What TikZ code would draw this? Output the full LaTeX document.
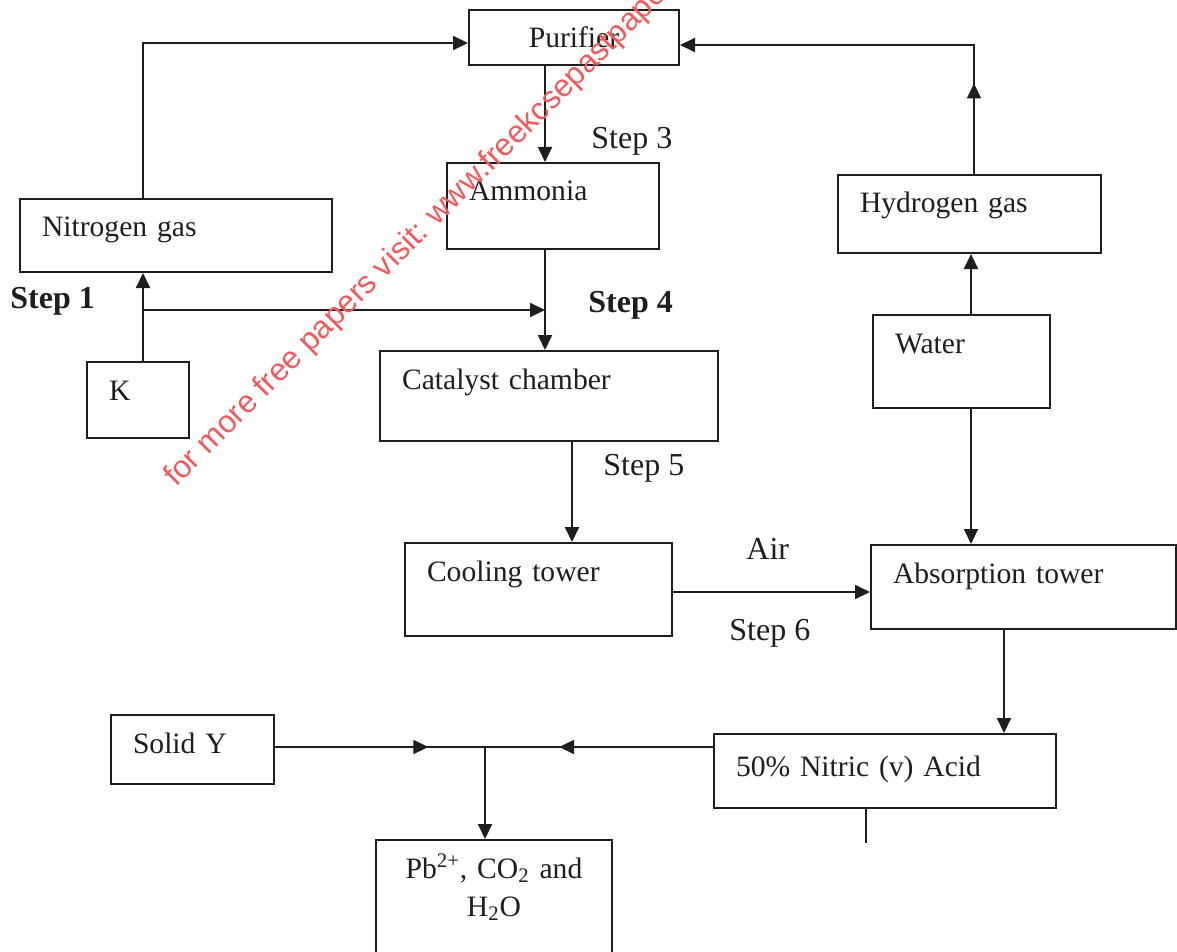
\documentclass[tikz,border=0pt]{standalone}
\usepackage{fontspec}
\setmainfont{Liberation Serif}
\newfontfamily\wmfont{Liberation Sans}
\usepackage{tikz}
\usetikzlibrary{arrows.meta, decorations.markings}
\definecolor{ink}{HTML}{1E1E1E}
\definecolor{wmark}{HTML}{F25A5A}
\tikzset{
	box/.style={draw=ink, line width=1pt, anchor=north west, inner xsep=11pt,
		inner ysep=0pt, align=left, text height=19pt},
	stepl/.style={anchor=base west, inner sep=0pt, font=\fontsize{16}{19}\selectfont},
	arr/.style={-{Triangle[length=7.5pt, width=7pt]}, line width=1pt, ink},
	midarr/.style={line width=1pt, ink, postaction={decorate}, decoration={markings,
		mark=at position #1 with {\arrow{Triangle[length=7.5pt, width=7pt]}}}},
}

\begin{document}
\begin{tikzpicture}[x=0.5pt, y=-0.5pt, font=\fontsize{14.8}{19}\selectfont, text=ink]
	\useasboundingbox (0,0) rectangle (1177,952);
	\clip (0,0) rectangle (1177,952);
	% process boxes
	\node[box, text width=83pt, align=center, text depth=8.5pt] (pur) at (468,9) {Purifier};
	\node[box, text width=134pt, text depth=17.5pt] (nit) at (19,198) {Nitrogen gas};
	\node[box, text width=84pt, text depth=24pt] (amm) at (446,162) {Ammonia};
	\node[box, text width=29pt, text depth=19pt] (kk) at (86,361) {K};
	\node[box, text width=147pt, text depth=26pt] (cat) at (379,350) {Catalyst chamber};
	\node[box, text width=109.5pt, text depth=20pt] (hyd) at (837,174) {Hydrogen gas};
	\node[box, text width=66.5pt, text depth=27.5pt] (wat) at (872,314) {Water};
	\node[box, text width=111.5pt, text depth=27.5pt] (cool) at (404,542) {Cooling tower};
	\node[box, text width=130.5pt, text depth=23pt] (absorb) at (870,544) {Absorption tower};
	\node[box, text width=59.5pt, text depth=15.5pt] (sol) at (110,714) {Solid Y};
	\node[box, text width=149pt, text height=21pt, text depth=16pt] (nitric) at (713,733) {50\% Nitric (v) Acid};
	\node[box, text width=96pt, align=center, text depth=51pt] (pb) at (375,839)
		{Pb\textsuperscript{2+}, CO\textsubscript{2} and\\H\textsubscript{2}O};
	% step labels
	\node[stepl, font=\fontsize{16}{19}\selectfont\bfseries] (st1) at (10,308) {Step 1};
	\node[stepl] (st3) at (591,149) {Step 3};
	\node[stepl, font=\fontsize{16}{19}\selectfont\bfseries] (st4) at (588,312) {Step 4};
	\node[stepl] (st5) at (603,475) {Step 5};
	\node[stepl] (air) at (746,559) {Air};
	\node[stepl] (st6) at (729,640) {Step 6};
	% bends and junctions
	\coordinate (nb) at (143,43);
	\coordinate (kb) at (143,310);
	\coordinate (xp) at (545,0);
	\coordinate (xc) at (572,0);
	\coordinate (ya) at (0,592);
	\coordinate (xw) at (971,0);
	\coordinate (hb) at (974,45);
	\coordinate (xa) at (1004,0);
	\coordinate (jn) at (485,747);
	\coordinate (stub) at (866,843);
	% connectors
	\draw[arr] (nb |- nit.north) -- (nb) -- (nb -| pur.west);
	\draw[arr] (kb |- kk.north) -- (kb |- nit.south);
	\draw[arr] (kb) -- (kb -| xp);
	\draw[arr] (pur.south -| xp) -- (amm.north -| xp);
	\draw[arr] (amm.south -| xp) -- (cat.north -| xp);
	\draw[arr] (cat.south -| xc) -- (cool.north -| xc);
	\draw[arr] (cool.east |- ya) -- (absorb.west |- ya);
	\draw[arr] (wat.north -| xw) -- (hyd.south -| xw);
	\draw[arr] (wat.south -| xw) -- (absorb.north -| xw);
	\draw[arr, midarr=0.214] (hb |- hyd.north) -- (hb) -- (hb -| pur.east);
	\draw[arr] (absorb.south -| xa) -- (nitric.north -| xa);
	\draw[midarr=0.675] (nitric.west |- jn) -- (jn);
	\draw[midarr=0.73] (sol.east |- jn) -- (jn);
	\draw[arr] (jn) -- (jn |- pb.north);
	\draw[line width=1pt, ink] (stub |- nitric.south) -- (stub);
	% watermark
	\node[rotate=45, anchor=base west, inner sep=0pt, text=wmark,
		font=\wmfont\fontsize{15.8}{19}\selectfont] (wm) at (176,488)
		{for more free papers visit: www.freekcsepastpapers.com};
\end{tikzpicture}
\end{document}
